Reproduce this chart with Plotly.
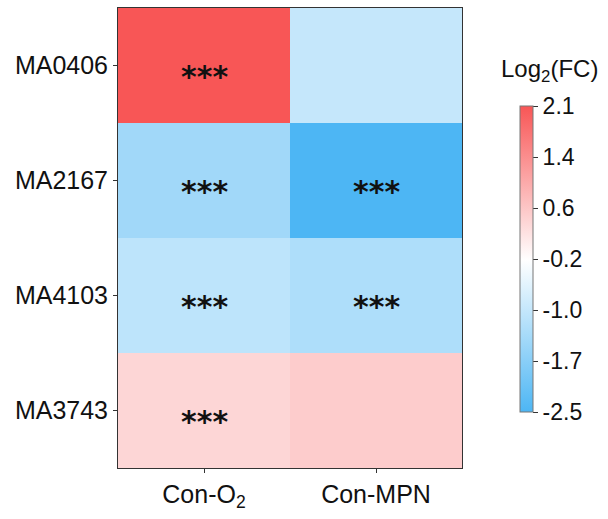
import plotly.graph_objects as go

groups = ["Con-O<sub>2</sub>", "Con-MPN"]
motifs = ["MA0406", "MA2167", "MA4103", "MA3743"]
# log2(FC) values, rows = motifs, cols = groups
log2fc = [
    [2.13, -0.95],
    [-1.42, -2.50],
    [-1.05, -1.25],
    [0.36, 0.50],
]
signif = [
    ["***", ""],
    ["***", "***"],
    ["***", "***"],
    ["***", ""],
]
cb_tickvals = [2.13, 1.358, 0.587, -0.185, -0.957, -1.729, -2.5]
cb_ticktext = ["2.1", "1.4", "0.6", "-0.2", "-1.0", "-1.7", "-2.5"]

zmin, zmax = -2.5, 2.13
white_pos = (-0.2 - zmin) / (zmax - zmin)
colorscale = [
    [0.0, "#4DB6F4"],
    [white_pos, "#FFFFFF"],
    [1.0, "#F85656"],
]

FONT = "Liberation Sans, Arial, sans-serif"
FS = 25

fig = go.Figure()
fig.add_trace(go.Heatmap(
    z=log2fc, x=groups, y=motifs,
    zmin=zmin, zmax=zmax, colorscale=colorscale,
    xgap=0, ygap=0,
    colorbar=dict(
        x=(520 - 118) / 344, xanchor="left", xpad=0,
        y=(470 - 260) / 463, yanchor="middle", ypad=0,
        len=306, lenmode="pixels", thickness=13,
        outlinecolor="#777777", outlinewidth=1,
        tickvals=cb_tickvals, ticktext=cb_ticktext,
        ticks="outside", ticklen=5, tickcolor="#333333",
        tickfont=dict(family=FONT, size=23, color="#111111"),
    ),
))

annotations = []
for i, m in enumerate(motifs):
    for j, g in enumerate(groups):
        if signif[i][j]:
            annotations.append(dict(
                x=g, y=m, xref="x", yref="y", text="<b>" + signif[i][j] + "</b>",
                showarrow=False, yshift=-11,
                font=dict(family="DejaVu Sans", size=30, color="#111111"),
            ))
annotations.append(dict(
    x=(549 - 118) / 344, y=(470 - 70) / 463, xref="paper", yref="paper",
    xanchor="center", yanchor="middle",
    text="Log<sub>2</sub>(FC)", showarrow=False,
    font=dict(family=FONT, size=24, color="#111111"),
))

fig.update_layout(
    width=608, height=519,
    margin=dict(l=118, r=146, t=7, b=49),
    paper_bgcolor="white", plot_bgcolor="white",
    font=dict(family=FONT, size=FS, color="#111111"),
    annotations=annotations,
    xaxis=dict(
        showline=True, linecolor="#333333", linewidth=1, mirror=True,
        ticks="outside", ticklen=4, tickcolor="#333333",
        tickfont=dict(family=FONT, size=FS, color="#111111"),
        showgrid=False, zeroline=False,
    ),
    yaxis=dict(
        autorange="reversed",
        showline=True, linecolor="#333333", linewidth=1, mirror=True,
        ticks="outside", ticklen=4, tickcolor="#333333",
        tickfont=dict(family=FONT, size=FS, color="#111111"),
        showgrid=False, zeroline=False,
    ),
)

fig.write_html("out.html")
